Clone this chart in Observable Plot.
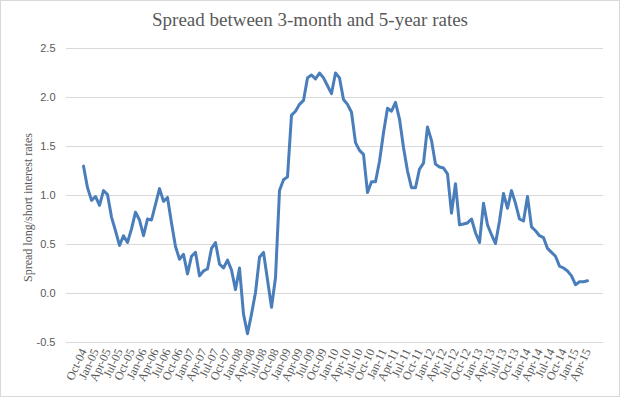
<!DOCTYPE html>
<html>
<head>
<meta charset="utf-8">
<script src="https://cdn.jsdelivr.net/npm/d3@7"></script>
<script src="https://cdn.jsdelivr.net/npm/@observablehq/plot@0.6"></script>
<style>
  html, body { margin: 0; padding: 0; background: #fff; }
  #wrap { position: relative; width: 620px; height: 397px; overflow: hidden; background: #fff; }
  #title { height: 36px; width: 620px; text-align: center; font-family: "Liberation Serif", "DejaVu Serif", serif; font-size: 19px; color: #595959; line-height: 40px; }
  #border { position: absolute; left: 0; top: 0; width: 618px; height: 395px; border: 1px solid #d9d9d9; pointer-events: none; }
  svg { display: block; }
</style>
</head>
<body>
<div id="wrap">
  <div id="title">Spread between 3-month and 5-year rates</div>
  <div id="chart"></div>
  <div id="border"></div>
</div>
<script>
// categories: Oct-04 .. Apr-15
const months = [
  "Oct-04","Nov-04","Dec-04",
  "Jan-05","Feb-05","Mar-05","Apr-05","May-05","Jun-05","Jul-05","Aug-05","Sep-05","Oct-05","Nov-05","Dec-05",
  "Jan-06","Feb-06","Mar-06","Apr-06","May-06","Jun-06","Jul-06","Aug-06","Sep-06","Oct-06","Nov-06","Dec-06",
  "Jan-07","Feb-07","Mar-07","Apr-07","May-07","Jun-07","Jul-07","Aug-07","Sep-07","Oct-07","Nov-07","Dec-07",
  "Jan-08","Feb-08","Mar-08","Apr-08","May-08","Jun-08","Jul-08","Aug-08","Sep-08","Oct-08","Nov-08","Dec-08",
  "Jan-09","Feb-09","Mar-09","Apr-09","May-09","Jun-09","Jul-09","Aug-09","Sep-09","Oct-09","Nov-09","Dec-09",
  "Jan-10","Feb-10","Mar-10","Apr-10","May-10","Jun-10","Jul-10","Aug-10","Sep-10","Oct-10","Nov-10","Dec-10",
  "Jan-11","Feb-11","Mar-11","Apr-11","May-11","Jun-11","Jul-11","Aug-11","Sep-11","Oct-11","Nov-11","Dec-11",
  "Jan-12","Feb-12","Mar-12","Apr-12","May-12","Jun-12","Jul-12","Aug-12","Sep-12","Oct-12","Nov-12","Dec-12",
  "Jan-13","Feb-13","Mar-13","Apr-13","May-13","Jun-13","Jul-13","Aug-13","Sep-13","Oct-13","Nov-13","Dec-13",
  "Jan-14","Feb-14","Mar-14","Apr-14","May-14","Jun-14","Jul-14","Aug-14","Sep-14","Oct-14","Nov-14","Dec-14",
  "Jan-15","Feb-15","Mar-15","Apr-15"
];
const spread = [
  1.30,1.08,0.95,
  0.99,0.90,1.05,1.01,0.78,0.64,0.49,0.59,0.52,0.66,0.83,0.75,
  0.59,0.76,0.75,0.91,1.07,0.94,0.98,0.72,0.48,0.35,0.40,0.20,
  0.38,0.42,0.18,0.23,0.25,0.46,0.52,0.30,0.26,0.34,0.24,0.04,
  0.26,-0.21,-0.41,-0.21,0.01,0.37,0.42,0.14,-0.14,0.16,1.05,1.16,
  1.19,1.82,1.86,1.93,1.97,2.20,2.23,2.19,2.25,2.20,2.12,2.04,
  2.25,2.20,1.98,1.93,1.85,1.54,1.46,1.42,1.03,1.14,1.14,1.35,
  1.64,1.89,1.86,1.95,1.78,1.49,1.25,1.08,1.08,1.27,1.33,1.70,
  1.56,1.32,1.29,1.28,1.22,0.82,1.12,0.70,0.71,0.72,0.76,0.62,
  0.52,0.92,0.70,0.60,0.51,0.74,1.02,0.87,1.05,0.92,0.76,0.74,
  0.99,0.68,0.64,0.59,0.57,0.46,0.42,0.38,0.28,0.26,0.23,0.18,
  0.09,0.12,0.12,0.13
];
const xTickLabels = [
  "Oct-04","Jan-05","Apr-05","Jul-05","Oct-05","Jan-06","Apr-06","Jul-06","Oct-06",
  "Jan-07","Apr-07","Jul-07","Oct-07","Jan-08","Apr-08","Jul-08","Oct-08",
  "Jan-09","Apr-09","Jul-09","Oct-09","Jan-10","Apr-10","Jul-10","Oct-10",
  "Jan-11","Apr-11","Jul-11","Oct-11","Jan-12","Apr-12","Jul-12","Oct-12",
  "Jan-13","Apr-13","Jul-13","Oct-13","Jan-14","Apr-14","Jul-14","Oct-14",
  "Jan-15","Apr-15"
];
const yTicks = [-0.5, 0, 0.5, 1.0, 1.5, 2.0, 2.5];
const yLabel = "Spread long/short interest rates";

const data = months.map((m, i) => ({month: m, value: spread[i]}));

const chart = Plot.plot({
  width: 620,
  height: 361,
  marginLeft: 66,
  marginRight: 17,
  marginTop: 12,
  marginBottom: 55,
  style: {fontFamily: "'Liberation Sans', sans-serif", fontSize: "11px", color: "#595959", background: "transparent"},
  x: {type: "point", domain: months, padding: 0.5},
  y: {domain: [-0.5, 2.5]},
  marks: [
    Plot.ruleY(yTicks, {stroke: "#d9d9d9", strokeWidth: 1}),
    Plot.axisY({ticks: yTicks, tickSize: 0, tickPadding: 11, tickFormat: d => d.toFixed(1), label: null, fill: "#595959", fontSize: 11}),
    Plot.axisX({ticks: xTickLabels, tickSize: 0, tickPadding: 7, tickRotate: -65, label: null, fill: "#595959", fontFamily: "'Liberation Serif', serif", fontSize: 12}),
    Plot.text([yLabel], {text: d => d, frameAnchor: "left", textAnchor: "middle", lineAnchor: "middle", dx: -38, dy: 12, rotate: -90, fill: "#595959", fontFamily: "'Liberation Serif', serif", fontSize: 12}),
    Plot.line(data, {x: "month", y: "value", stroke: "#4a7ebb", strokeWidth: 3, strokeLinejoin: "round", strokeLinecap: "round"})
  ]
});
document.getElementById("chart").appendChild(chart);
</script>
</body>
</html>
